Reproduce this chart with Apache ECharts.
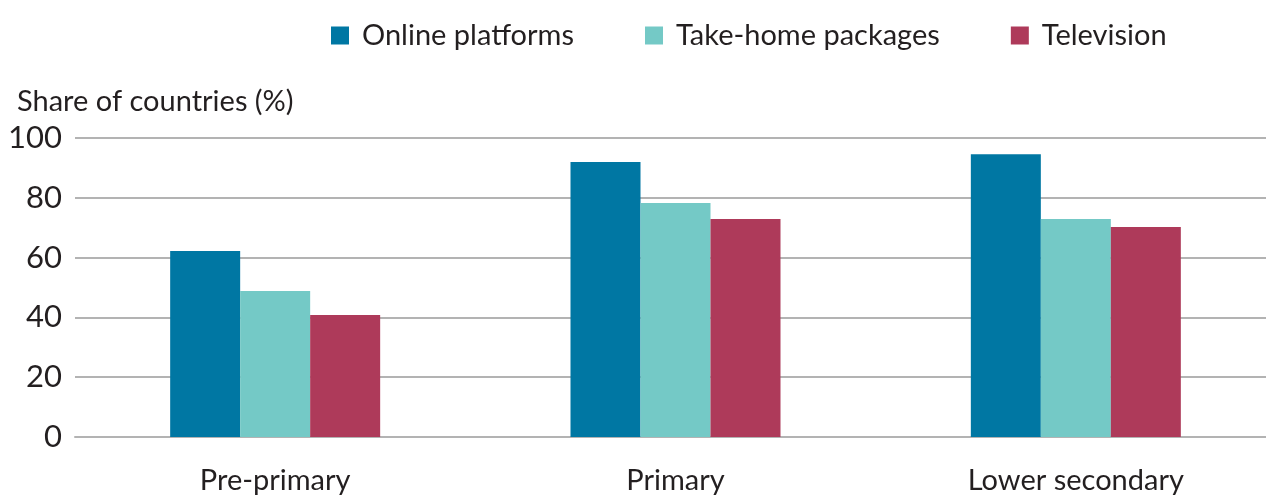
<!DOCTYPE html>
<html><head><meta charset="utf-8">
<script src="https://cdn.jsdelivr.net/npm/echarts@6/dist/echarts.min.js"></script>
<style>html,body{margin:0;padding:0;background:#fff}#c{width:1266px;height:496px}</style>
</head><body><div id="c"></div>
<script>
const categories = ["Pre-primary", "Primary", "Lower secondary"];
const onlinePlatforms = [62.2, 92.0, 94.6];
const takeHomePackages = [48.8, 78.3, 72.9];
const television = [40.8, 72.9, 70.2];
const yTicks = [0, 20, 40, 60, 80, 100];
const yTitle = "Share of countries (%)";

const font = "Lato";
const txt = "#231f20";
const chart = echarts.init(document.getElementById('c'));
chart.setOption({
  animation: false,
  textStyle: {fontFamily: font},
  title: {text: yTitle, left: 12, top: 82, textStyle: {fontFamily: font, fontSize: 29, fontWeight: 'normal', color: txt}},
  legend: {
    top: 16, left: 326, itemWidth: 18, itemHeight: 18, itemGap: 71,
    icon: 'rect',
    textStyle: {fontFamily: font, fontSize: 29, color: txt, padding: [0, 0, 0, 8]},
    data: ["Online platforms", "Take-home packages", "Television"]
  },
  grid: {left: 75, top: 138, bottom: 59, width: 1201, outerBoundsMode: 'none', containLabel: false},
  xAxis: {
    type: 'category', data: categories,
    axisLine: {show: true, lineStyle: {color: '#b3b3b3', width: 2}},
    axisTick: {show: false},
    axisLabel: {fontFamily: font, fontSize: 29, color: txt, margin: 29}
  },
  yAxis: {
    type: 'value', min: 0, max: 100, interval: 20,
    axisLine: {show: false}, axisTick: {show: false},
    axisLabel: {fontFamily: font, fontSize: 31, color: txt, margin: 13,
      formatter: v => yTicks.includes(v) ? String(v) : ''},
    splitLine: {lineStyle: {color: '#b3b3b3', width: 2}}
  },
  series: [
    {name: "Online platforms", type: 'bar', data: onlinePlatforms, barWidth: 70, barGap: '0%', itemStyle: {color: '#0077a3'}},
    {name: "Take-home packages", type: 'bar', data: takeHomePackages, barWidth: 70, barGap: '0%', itemStyle: {color: '#74c9c6'}},
    {name: "Television", type: 'bar', data: television, barWidth: 70, barGap: '0%', itemStyle: {color: '#ae3a5a'}}
  ]
});
</script></body></html>
